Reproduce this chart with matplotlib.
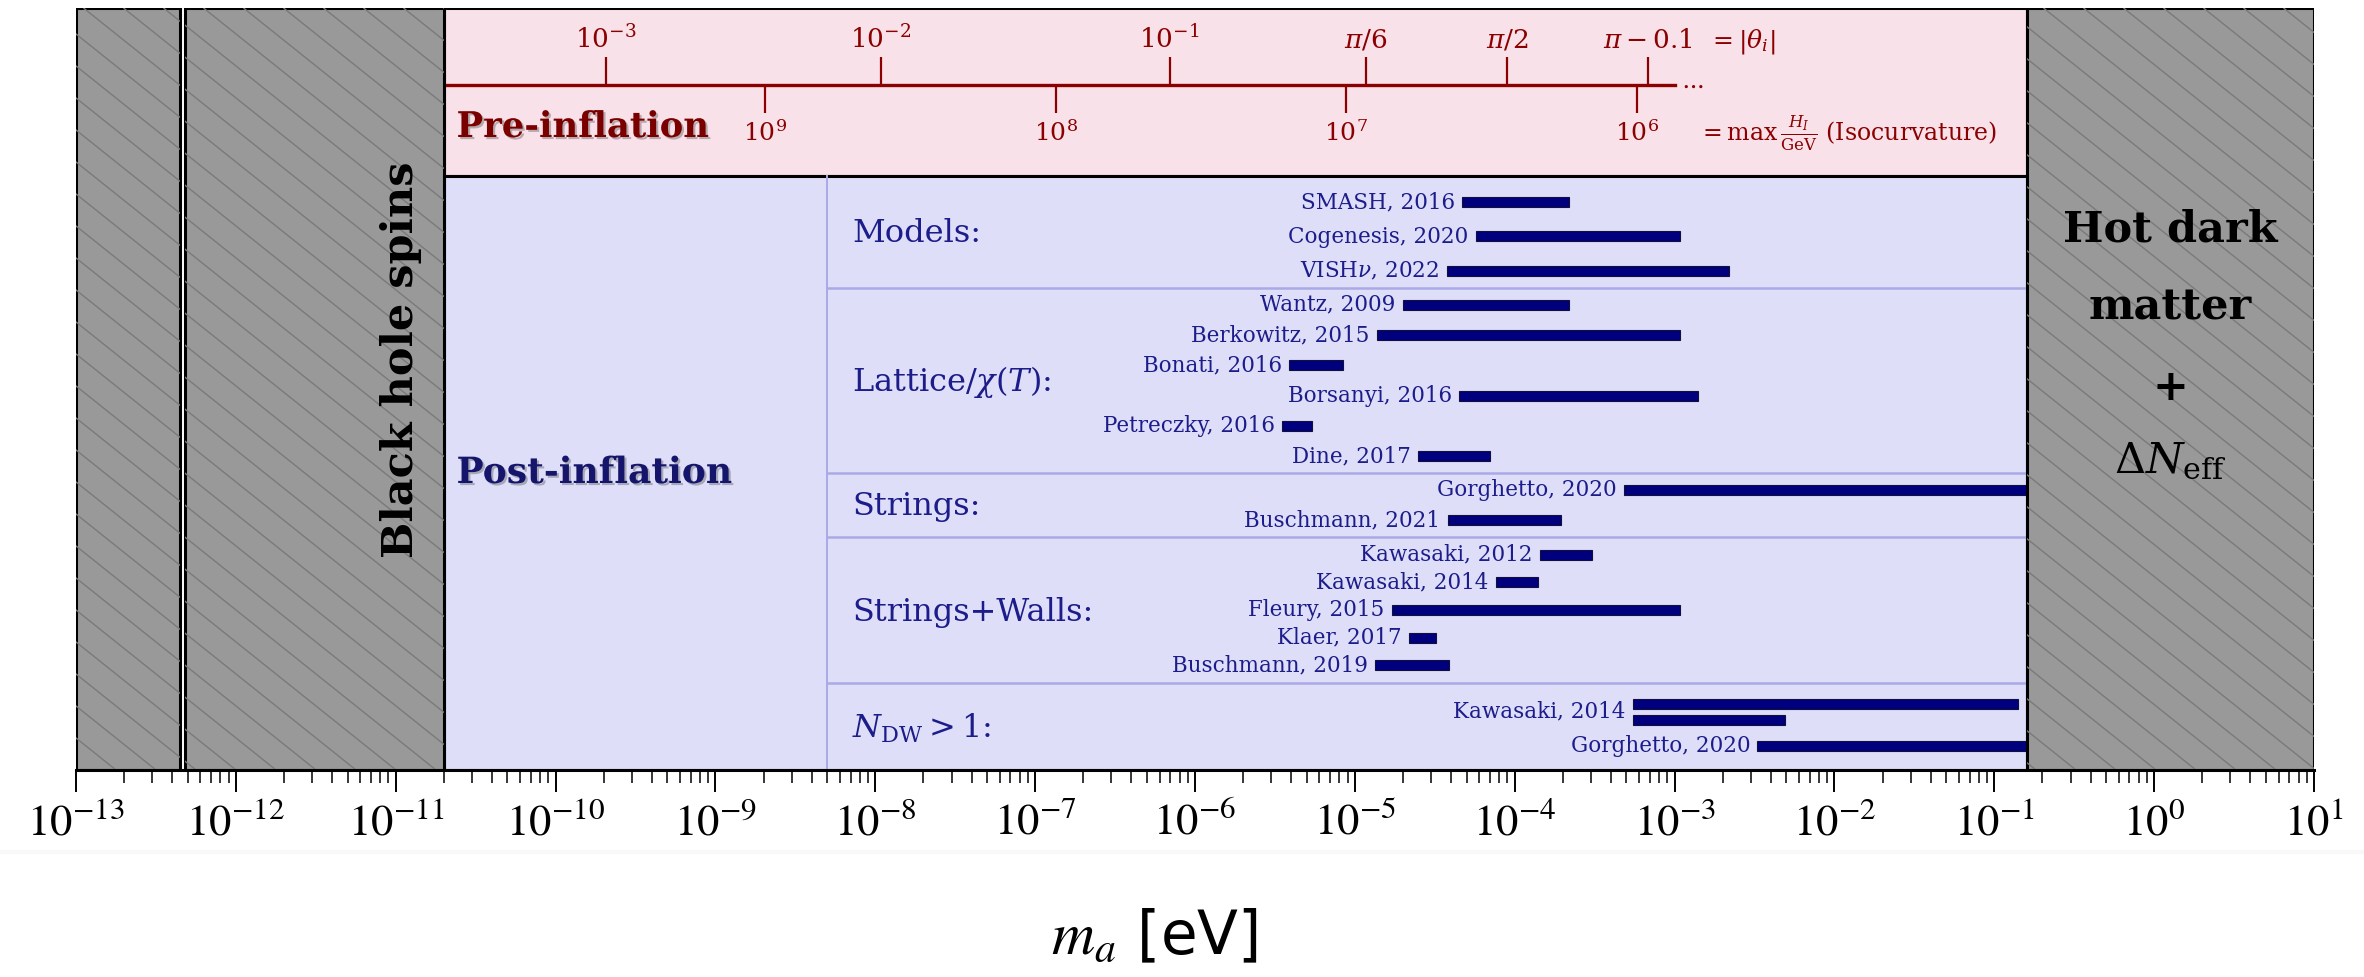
import numpy as np
import matplotlib
matplotlib.use("Agg")
import matplotlib.pyplot as plt
import matplotlib.patheffects as pe
from matplotlib.patches import Rectangle
from matplotlib.collections import LineCollection
from matplotlib.lines import Line2D
from matplotlib.ticker import LogLocator, FuncFormatter, NullFormatter

plt.rcParams['mathtext.fontset'] = 'stix'

# ---- data (axion mass in eV) ----
bh_spins = [(1e-13, 4.5e-13), (4.8e-13, 2e-11)]   # black hole superradiance
hot_dm = (0.16, 10.0)                              # hot dark matter + Delta N_eff
window = (2e-11, 0.16)                             # open window
split_mass = 5e-9                                  # where the group labels start

theta_labels = [r'$10^{-3}$', r'$10^{-2}$', r'$10^{-1}$', r'$\pi/6$', r'$\pi/2$', r'$\pi-0.1$']
theta_mass = [2.06e-10, 1.08e-8, 6.95e-7, 1.17e-5, 9.0e-5, 6.8e-4]
hubble_labels = [r'$10^9$', r'$10^8$', r'$10^7$', r'$10^6$']
hubble_mass = [2.03e-9, 1.36e-7, 8.8e-6, 5.8e-4]
theta_scale_end = 1e-3

group_names = ['Models:', r'Lattice/$\chi(T)$:', 'Strings:', 'Strings+Walls:', r'$N_{\rm DW}>1$:']

study_names = ['SMASH, 2016', 'Cogenesis, 2020', r'VISH$\nu$, 2022',
               'Wantz, 2009', 'Berkowitz, 2015', 'Bonati, 2016', 'Borsanyi, 2016',
               'Petreczky, 2016', 'Dine, 2017',
               'Gorghetto, 2020', 'Buschmann, 2021',
               'Kawasaki, 2012', 'Kawasaki, 2014', 'Fleury, 2015', 'Klaer, 2017', 'Buschmann, 2019',
               'Kawasaki, 2014', 'Kawasaki, 2014', 'Gorghetto, 2020']
study_group = [0, 0, 0,
               1, 1, 1, 1, 1, 1,
               2, 2,
               3, 3, 3, 3, 3,
               4, 4, 4]
mass_lo = [4.7e-5, 5.7e-5, 3.75e-5,
           2.0e-5, 1.37e-5, 3.9e-6, 4.5e-5, 3.5e-6, 2.5e-5,
           4.8e-4, 3.8e-5,
           1.43e-4, 7.6e-5, 1.7e-5, 2.19e-5, 1.34e-5,
           5.5e-4, 5.5e-4, 3.3e-3]
mass_hi = [2.18e-4, 1.08e-3, 2.18e-3,
           2.18e-4, 1.08e-3, 8.45e-6, 1.4e-3, 5.4e-6, 7.0e-5,
           1.0, 1.95e-4,
           3.05e-4, 1.39e-4, 1.08e-3, 3.2e-5, 3.9e-5,
           0.14, 4.9e-3, 1.0]

# ---- layout (vertical units = pixels below the top of the axes) ----
H = 762
pink_h = 168
group_h = [112, 185, 64, 146, 87]
row_step = [34.5, 30.3, 30.0, 27.7, 34.3]
row_shift = [4.5, 0, 0, 0, 2.5]
pair_gap = 15.3
bar_h = 10

pink = '#f8e1e8'
blue = '#dedef9'
grey = '#999999'
dred = '#8b0000'
navy = '#1c1c8a'
barc = '#00007f'
sepc = '#a9a9e6'
serif = 'DejaVu Serif'

fig = plt.figure(figsize=(23.64, 9.77), dpi=100)
ax = fig.add_axes([76 / 2364, 1 - 770 / 977, 2238 / 2364, 762 / 977])
ax.set_xscale('log')
ax.set_xlim(1e-13, 10)
ax.set_ylim(H, 0)

# background regions
ax.add_patch(Rectangle((window[0], 0), window[1] - window[0], pink_h,
                       fc=pink, ec='black', lw=2.2, zorder=1))
ax.add_patch(Rectangle((window[0], pink_h), window[1] - window[0], H - pink_h,
                       fc=blue, ec='black', lw=2.2, zorder=1))

# hatched excluded regions
W_px = 2238.0
slope = 0.8
spacing = 40.0
x0s = np.arange(-H / slope, W_px + spacing, spacing)
segs = [[(x0 / W_px, 1.0), ((x0 + H / slope) / W_px, 0.0)] for x0 in x0s]
for lo, hi in bh_spins + [hot_dm]:
    r = Rectangle((lo, 0), hi - lo, H, fc=grey, ec='black', lw=2.2, zorder=6)
    ax.add_patch(r)
    lc = LineCollection(segs, colors='#7a7a7a', linewidths=1.0,
                        transform=ax.transAxes, zorder=6.5)
    ax.add_collection(lc, autolim=False)
    lc.set_clip_path(r)

# group separators
tops = pink_h + np.concatenate([[0], np.cumsum(group_h)])
ax.plot([split_mass, split_mass], [pink_h, H], color=sepc, lw=1.4, zorder=2)
ax.hlines(tops[1:-1], split_mass, window[1], color=sepc, lw=1.8, zorder=2)

# studies
for g in range(len(group_names)):
    idx = [i for i in range(len(study_names)) if study_group[i] == g]
    rows = []
    for i in idx:
        if rows and study_names[i] == study_names[rows[-1][0]]:
            rows[-1].append(i)
        else:
            rows.append([i])
    mid = (tops[g] + tops[g + 1]) / 2 + row_shift[g]
    for k, r in enumerate(rows):
        yc = mid + (k - (len(rows) - 1) / 2) * row_step[g]
        for j, i in enumerate(r):
            yb = yc + (j - (len(r) - 1) / 2) * pair_gap
            ax.barh(yb, mass_hi[i] - mass_lo[i], left=mass_lo[i], height=bar_h,
                    color=barc, edgecolor='#10103a', lw=0.8, zorder=3)
        ax.text(mass_lo[r[0]] / 1.11, yc, study_names[r[0]], ha='right', va='center',
                fontsize=15.5, color=navy, family=serif, math_fontfamily='dejavuserif',
                zorder=4)
    ax.text(7.2e-9, (tops[g] + tops[g + 1]) / 2 + 2, group_names[g], ha='left', va='center',
            fontsize=23, color=navy, family=serif, math_fontfamily='dejavuserif', zorder=4)

shadow = [pe.withSimplePatchShadow(offset=(1.5, -1.5), shadow_rgbFace='#555555', alpha=0.4)]
ax.text(2.4e-11, (pink_h + H) / 2, 'Post-inflation', ha='left', va='center',
        fontsize=26, fontweight='bold', color='#15156b', family=serif, zorder=4,
        path_effects=shadow)
ax.text(2.4e-11, 119, 'Pre-inflation', ha='left', va='center',
        fontsize=25.5, fontweight='bold', color='#7a0000', family=serif, zorder=4,
        path_effects=shadow)

# pre-inflation scale
ax.plot([window[0], theta_scale_end], [77, 77], color=dred, lw=2.4, zorder=3)
ax.vlines(theta_mass, 49, 77, color=dred, lw=1.6, zorder=3)
ax.vlines(hubble_mass, 77, 105, color=dred, lw=1.6, zorder=3)
for m, s in zip(theta_mass, theta_labels):
    ax.text(m, 40, s, ha='center', va='baseline', fontsize=19, color=dred,
            family=serif, math_fontfamily='dejavuserif', zorder=4)
for m, s in zip(hubble_mass, hubble_labels):
    ax.text(m, 133, s, ha='center', va='baseline', fontsize=18, color=dred,
            family=serif, math_fontfamily='dejavuserif', zorder=4)
ax.text(theta_scale_end * 1.1, 77, r'$\cdots$', ha='left', va='center', fontsize=18,
        color=dred, zorder=4, math_fontfamily='dejavuserif')
ax.text(1.63e-3, 40, r'$=|\theta_i|$', ha='left', va='baseline', fontsize=18,
        color=dred, zorder=4, math_fontfamily='dejavuserif')
ax.text(1.4e-3, 125, r'$=\max\,\frac{H_I}{\mathrm{GeV}}$ (Isocurvature)', ha='left',
        va='center', fontsize=17, color=dred, family=serif, math_fontfamily='dejavuserif',
        zorder=4)

# labels on excluded regions
ax.text(1.08e-11, 352, 'Black hole spins', rotation=90, ha='center', va='center',
        fontsize=31, fontweight='bold', color='black', family=serif, zorder=8)
hx = np.sqrt(hot_dm[0] * hot_dm[1])
for yy, s, w in zip([222, 299, 380, 452],
                    ['Hot dark', 'matter', '+', r'$\Delta N_{\rm eff}$'],
                    ['bold', 'bold', 'bold', 'normal']):
    ax.text(hx, yy, s, ha='center', va='center', fontsize=31, fontweight=w,
            color='black', family=serif, math_fontfamily='dejavuserif', zorder=8)

# axis
for side in ['top', 'left', 'right']:
    ax.spines[side].set_visible(False)
ax.spines['bottom'].set_linewidth(2.2)
ax.spines['bottom'].set_zorder(10)
ax.set_yticks([])
ax.xaxis.set_major_locator(LogLocator(base=10, numticks=30))
ax.xaxis.set_minor_locator(LogLocator(base=10, subs=np.arange(2, 10), numticks=30))
ax.xaxis.set_major_formatter(FuncFormatter(lambda v, p: r'$10^{%d}$' % round(np.log10(v))))
ax.xaxis.set_minor_formatter(NullFormatter())
ax.tick_params(axis='x', which='major', length=16, width=1.4, pad=6, labelsize=32)
ax.tick_params(axis='x', which='minor', length=9.5, width=1.1)

ax.set_xlabel(r'$m_a$ [eV]', fontsize=43, family='DejaVu Sans', math_fontfamily='stix')
ax.xaxis.label.set_va('center')
ax.xaxis.set_label_coords(0.482, -0.22)

fig.add_artist(Line2D([0, 1], [1 - 852 / 977] * 2, transform=fig.transFigure,
                      color='#f8f8f8', lw=3))

fig.savefig('out.png', dpi=100, facecolor='white')
